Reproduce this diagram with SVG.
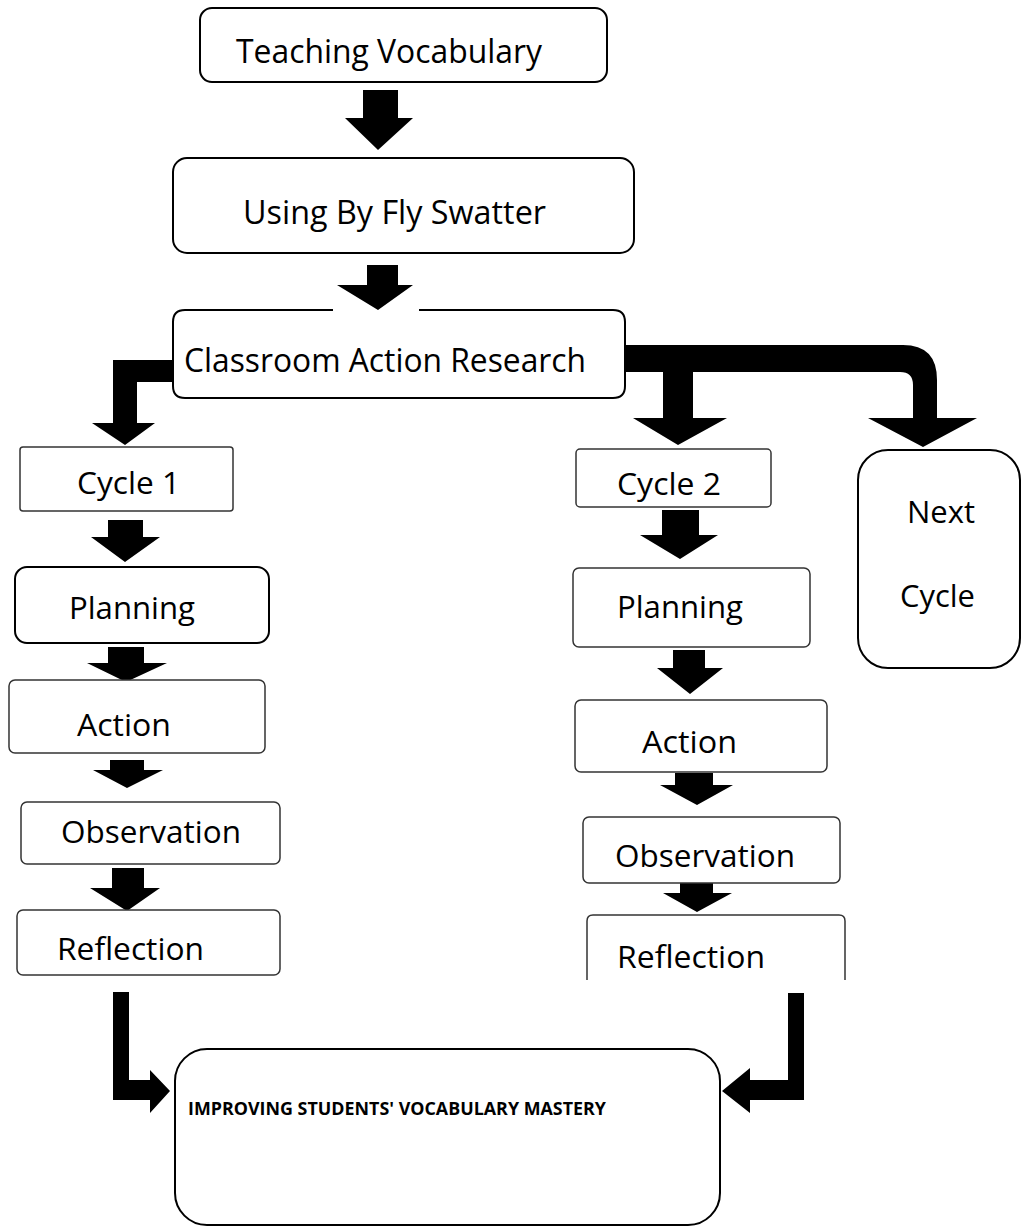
<svg xmlns="http://www.w3.org/2000/svg" width="1022" height="1227" viewBox="0 0 1022 1227">
<style>
.box{fill:#fff;stroke:#000;stroke-width:2}
.thin{fill:#fff;stroke:#333;stroke-width:1.5}
.open{fill:none;stroke:#333;stroke-width:1.5}
.lbl{font-family:"Open Sans","Noto Sans","Liberation Sans",sans-serif;font-size:31px;fill:#000}
.big{font-size:33px}
.bold{font-family:"Open Sans","Noto Sans","Liberation Sans",sans-serif;font-size:17px;font-weight:bold;fill:#000}
.arr{fill:#000;stroke:none}
</style>
<rect width="1022" height="1227" fill="#fff"/>
<g id="connectors">
<polygon class="arr" points="363,90 398,90 398,118 413,118 378,150 345,118 363,118"/>
<polygon class="arr" points="367,265 398,265 398,285 413,285 378,310 337,285 367,285"/>
<path class="arr" d="M182,360 L113,360 L113,423 L92,423 L125,445 L155,423 L137,423 L137,382 L182,382 Z"/>
<path class="arr" d="M622,345 L903,345 Q937,345 937,380 L937,418 L977,418 L923,447 L868,418 L913,418 L913,385 Q913,372 900,372 L693,372 L693,418 L727,418 L678,445 L633,418 L663,418 L663,372 L622,372 Z"/>
<polygon class="arr" points="108,520 143,520 143,537 160,537 125,562 91,537 108,537"/>
<polygon class="arr" points="108,647 144,647 144,663 167,663 126,682 87,663 108,663"/>
<polygon class="arr" points="110,760 144,760 144,770 163,770 127,788 93,770 110,770"/>
<polygon class="arr" points="112,868 144,868 144,888 160,888 127,911 90,888 112,888"/>
<polygon class="arr" points="662,510 699,510 699,535 718,535 680,559 640,535 662,535"/>
<polygon class="arr" points="673,650 705,650 705,668 723,668 690,694 657,668 673,668"/>
<polygon class="arr" points="675,773 713,773 713,785 733,785 697,805 660,785 675,785"/>
<polygon class="arr" points="680,882 713,882 713,893 732,893 697,912 663,893 680,893"/>
<path class="arr" d="M113,992 L129,992 L129,1080 L150,1080 L150,1070 L170,1091 L150,1113 L150,1100 L113,1100 Z"/>
<path class="arr" d="M788,993 L804,993 L804,1100 L750,1100 L750,1113 L722,1091 L750,1068 L750,1080 L788,1080 Z"/>
</g>
<g id="n-teaching">
<rect class="box" x="200" y="8" width="407" height="74" rx="12"/>
<text class="lbl" x="236" y="63" textLength="306" lengthAdjust="spacingAndGlyphs" style="font-size:32px">Teaching Vocabulary</text>
</g>
<g id="n-using">
<rect class="box" x="173" y="158" width="461" height="95" rx="14"/>
<text class="lbl big" x="243" y="224" textLength="303" lengthAdjust="spacingAndGlyphs">Using By Fly Swatter</text>
</g>
<g id="n-car">
<path class="box" d="M333,310 L185,310 Q173,310 173,322 L173,386 Q173,398 185,398 L613,398 Q625,398 625,386 L625,322 Q625,310 613,310 L419,310"/>
<text class="lbl big" x="184" y="372" textLength="402" lengthAdjust="spacingAndGlyphs">Classroom Action Research</text>
</g>
<g id="n-cycle1">
<rect class="thin" x="20" y="447" width="213" height="64" rx="3"/>
<text class="lbl" x="77" y="494" textLength="103" lengthAdjust="spacingAndGlyphs">Cycle 1</text>
</g>
<g id="n-planning1">
<rect class="box" x="15" y="567" width="254" height="76" rx="12"/>
<text class="lbl" x="69" y="619" textLength="126" lengthAdjust="spacingAndGlyphs">Planning</text>
</g>
<g id="n-action1">
<rect class="thin" x="9" y="680" width="256" height="73" rx="6"/>
<text class="lbl" x="77" y="736" textLength="94" lengthAdjust="spacingAndGlyphs">Action</text>
</g>
<g id="n-observation1">
<rect class="thin" x="21" y="802" width="259" height="62" rx="6"/>
<text class="lbl" x="61" y="843" textLength="180" lengthAdjust="spacingAndGlyphs">Observation</text>
</g>
<g id="n-reflection1">
<rect class="thin" x="17" y="910" width="263" height="65" rx="6"/>
<text class="lbl" x="57" y="960" textLength="147" lengthAdjust="spacingAndGlyphs">Reflection</text>
</g>
<g id="n-cycle2">
<rect class="thin" x="576" y="449" width="195" height="58" rx="4"/>
<text class="lbl" x="617" y="495" textLength="104" lengthAdjust="spacingAndGlyphs">Cycle 2</text>
</g>
<g id="n-planning2">
<rect class="thin" x="573" y="568" width="237" height="79" rx="6"/>
<text class="lbl" x="617" y="618" textLength="126" lengthAdjust="spacingAndGlyphs">Planning</text>
</g>
<g id="n-action2">
<rect class="thin" x="575" y="700" width="252" height="72" rx="6"/>
<text class="lbl" x="642" y="753" textLength="95" lengthAdjust="spacingAndGlyphs">Action</text>
</g>
<g id="n-observation2">
<rect class="thin" x="583" y="817" width="257" height="66" rx="6"/>
<text class="lbl" x="615" y="867" textLength="180" lengthAdjust="spacingAndGlyphs">Observation</text>
</g>
<g id="n-reflection2">
<path class="open" d="M587,980 L587,921 Q587,915 593,915 L839,915 Q845,915 845,921 L845,980"/>
<text class="lbl" x="617" y="968" textLength="148" lengthAdjust="spacingAndGlyphs">Reflection</text>
</g>
<g id="n-next">
<rect class="box" x="858" y="450" width="162" height="218" rx="30"/>
<text class="lbl" x="907" y="523" textLength="68" lengthAdjust="spacingAndGlyphs">Next</text>
<text class="lbl" x="900" y="607" textLength="75" lengthAdjust="spacingAndGlyphs">Cycle</text>
</g>
<g id="n-improving">
<rect class="box" x="175" y="1049" width="545" height="176" rx="32"/>
<text class="bold" x="188" y="1115" textLength="418" lengthAdjust="spacingAndGlyphs">IMPROVING STUDENTS' VOCABULARY MASTERY</text>
</g>
</svg>
